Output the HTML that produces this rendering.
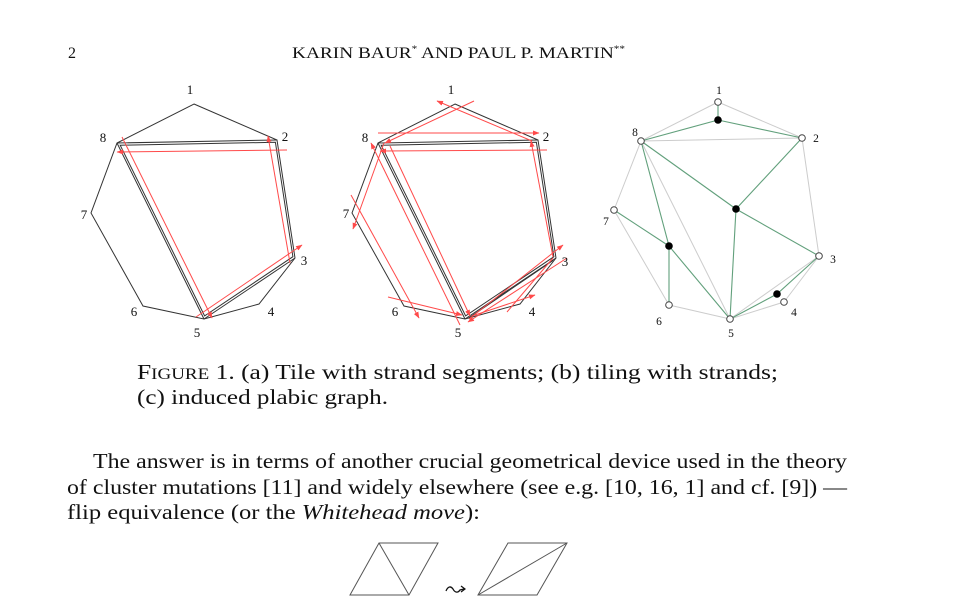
<!DOCTYPE html>
<html>
<head>
<meta charset="utf-8">
<style>
  html,body{margin:0;padding:0;background:#fff;}
  svg{display:block;}
  text{font-family:"Liberation Serif","DejaVu Serif",serif;fill:#111;}
</style>
</head>
<body>
<svg width="958" height="614" viewBox="0 0 958 614" xmlns="http://www.w3.org/2000/svg">
  <defs>
    <marker id="ar" markerWidth="7" markerHeight="6" refX="6" refY="3" orient="auto" markerUnits="userSpaceOnUse">
      <path d="M0,0.5 L6.5,3 L0,5.5 Z" fill="#ff4a4a"/>
    </marker>
  </defs>
  <rect width="958" height="614" fill="#fff"/>

  <!-- Header -->
  <text x="68" y="58" font-size="16">2</text>
  <text x="292" y="58" font-size="15.5" textLength="333" lengthAdjust="spacingAndGlyphs">KARIN BAUR<tspan font-size="9" dy="-6">*</tspan><tspan dy="6"> AND PAUL P. MARTIN</tspan><tspan font-size="9" dy="-6">**</tspan></text>

  <!-- Panel (a) black structure -->
  <g fill="none" stroke="#333" stroke-width="1">
    <path d="M194,104 L277,140 L295,258 L259,304 L204,319 L143,306 L91,213 L117,143 Z"/>
    <path d="M117,143 L277,140 M117,143 L204,319 M204,319 L295,258"/>
    <path d="M120.2,145.2 L275.4,142.3 L292.9,256.7 L204.6,315.9 Z"/>
  </g>
  <!-- Panel (a) red strands -->
  <g fill="none" stroke="#ff4a4a" stroke-width="1" marker-end="url(#ar)">
    <path d="M287,150 L117,152"/>
    <path d="M122,137 L212,318"/>
    <path d="M290,263 L268,136"/>
    <path d="M196,317 L302,245"/>
  </g>
  <g font-size="13" text-anchor="middle">
    <text x="190" y="94">1</text>
    <text x="285" y="141">2</text>
    <text x="304" y="265">3</text>
    <text x="271" y="316">4</text>
    <text x="197" y="337">5</text>
    <text x="134" y="316">6</text>
    <text x="84" y="219">7</text>
    <text x="103" y="142">8</text>
  </g>

  <!-- Panel (b) black structure -->
  <g fill="none" stroke="#333" stroke-width="1" transform="translate(261,0)">
    <path d="M194,104 L277,140 L295,258 L259,304 L204,319 L143,306 L91,213 L117,143 Z"/>
    <path d="M117,143 L277,140 M117,143 L204,319 M204,319 L295,258"/>
    <path d="M120.2,145.2 L275.4,142.3 L292.9,256.7 L204.6,315.9 Z"/>
    <path d="M207.4,318.2 L292,260.5"/>
  </g>
  <!-- Panel (b) red strands -->
  <g fill="none" stroke="#ff4a4a" stroke-width="1" marker-end="url(#ar)">
    <path d="M474,101 L385,143"/>
    <path d="M532,141 L437,101"/>
    <path d="M378,133 L539,133"/>
    <path d="M547,150 L380,151"/>
    <path d="M384,143 L353,229"/>
    <path d="M351,195 L419,318"/>
    <path d="M388,297 L462,315"/>
    <path d="M460,325 L371,143"/>
    <path d="M390,146 L470,316"/>
    <path d="M469,319 L563,245"/>
    <path d="M567,258 L468,322"/>
    <path d="M472,316 L535,295"/>
    <path d="M553,257 L531,141"/>
  </g>
  <path d="M507,312 L553,258" fill="none" stroke="#ff4a4a" stroke-width="1"/>
  <g font-size="13" text-anchor="middle">
    <text x="451" y="94">1</text>
    <text x="546" y="141">2</text>
    <text x="565" y="266">3</text>
    <text x="532" y="316">4</text>
    <text x="458" y="337">5</text>
    <text x="395" y="316">6</text>
    <text x="346" y="218">7</text>
    <text x="365" y="142">8</text>
  </g>

  <!-- Panel (c) plabic graph -->
  <g fill="none" stroke="#cccccc" stroke-width="1">
    <path d="M718,102 L802,138 M718,102 L641,141 M641,141 L802,138 M802,138 L819,256 M819,256 L784,302 M784,302 L730,319 M730,319 L669,305 M669,305 L614,210 M614,210 L641,141 M641,141 L730,319 M819,256 L730,319"/>
  </g>
  <g fill="none" stroke="#62a07c" stroke-width="1.1">
    <path d="M718,102 L718,120 M718,120 L641,141 M718,120 L802,138"/>
    <path d="M641,141 L736,209 M802,138 L736,209 M736,209 L819,256 M736,209 L730,319"/>
    <path d="M641,141 L669,246 M614,210 L669,246 M669,246 L669,305 M669,246 L730,319"/>
    <path d="M730,319 L777,294 L819,256"/>
  </g>
  <g fill="#fff" stroke="#444" stroke-width="1">
    <circle cx="718" cy="102" r="3.3"/>
    <circle cx="802" cy="138" r="3.3"/>
    <circle cx="819" cy="256" r="3.3"/>
    <circle cx="784" cy="302" r="3.3"/>
    <circle cx="730" cy="319" r="3.3"/>
    <circle cx="669" cy="305" r="3.3"/>
    <circle cx="614" cy="210" r="3.3"/>
    <circle cx="641" cy="141" r="3.3"/>
  </g>
  <g fill="#000">
    <circle cx="718" cy="120" r="3.8"/>
    <circle cx="736" cy="209" r="3.8"/>
    <circle cx="669" cy="246" r="3.8"/>
    <circle cx="777" cy="294" r="3.8"/>
  </g>
  <g font-size="11.5" text-anchor="middle">
    <text x="719" y="94">1</text>
    <text x="816" y="142">2</text>
    <text x="833" y="263">3</text>
    <text x="794" y="316">4</text>
    <text x="731" y="337">5</text>
    <text x="659" y="325">6</text>
    <text x="606" y="225">7</text>
    <text x="635" y="136">8</text>
  </g>

  <!-- Caption -->
  <text x="137" y="379" font-size="21.5" textLength="641" lengthAdjust="spacingAndGlyphs">F<tspan font-size="16">IGURE</tspan> 1. (a) Tile with strand segments; (b) tiling with strands;</text>
  <text x="137" y="404" font-size="21.5" textLength="251" lengthAdjust="spacingAndGlyphs">(c) induced plabic graph.</text>

  <!-- Body text -->
  <text x="93" y="468" font-size="21.5" textLength="754" lengthAdjust="spacingAndGlyphs">The answer is in terms of another crucial geometrical device used in the theory</text>
  <text x="67" y="494" font-size="21.5" textLength="780" lengthAdjust="spacingAndGlyphs">of cluster mutations [11] and widely elsewhere (see e.g. [10, 16, 1] and cf. [9]) —</text>
  <text x="67" y="519" font-size="21.5" textLength="413" lengthAdjust="spacingAndGlyphs">flip equivalence (or the <tspan font-style="italic">Whitehead move</tspan>):</text>

  <!-- Flip figure -->
  <g fill="none" stroke="#555" stroke-width="1">
    <path d="M379,543 L438,543 L409,595 L350,595 Z"/>
    <path d="M379,543 L409,595"/>
    <path d="M508,543 L567,543 L537,595 L478,595 Z"/>
    <path d="M478,595 L567,543"/>
  </g>
  <path d="M446,591 C448,586 451,586 453,589 C455,593 458,593 460,590 L464,589" fill="none" stroke="#111" stroke-width="1.3"/>
  <path d="M461,586 L465,589 L461,592" fill="none" stroke="#111" stroke-width="1.2"/>
</svg>
</body>
</html>
